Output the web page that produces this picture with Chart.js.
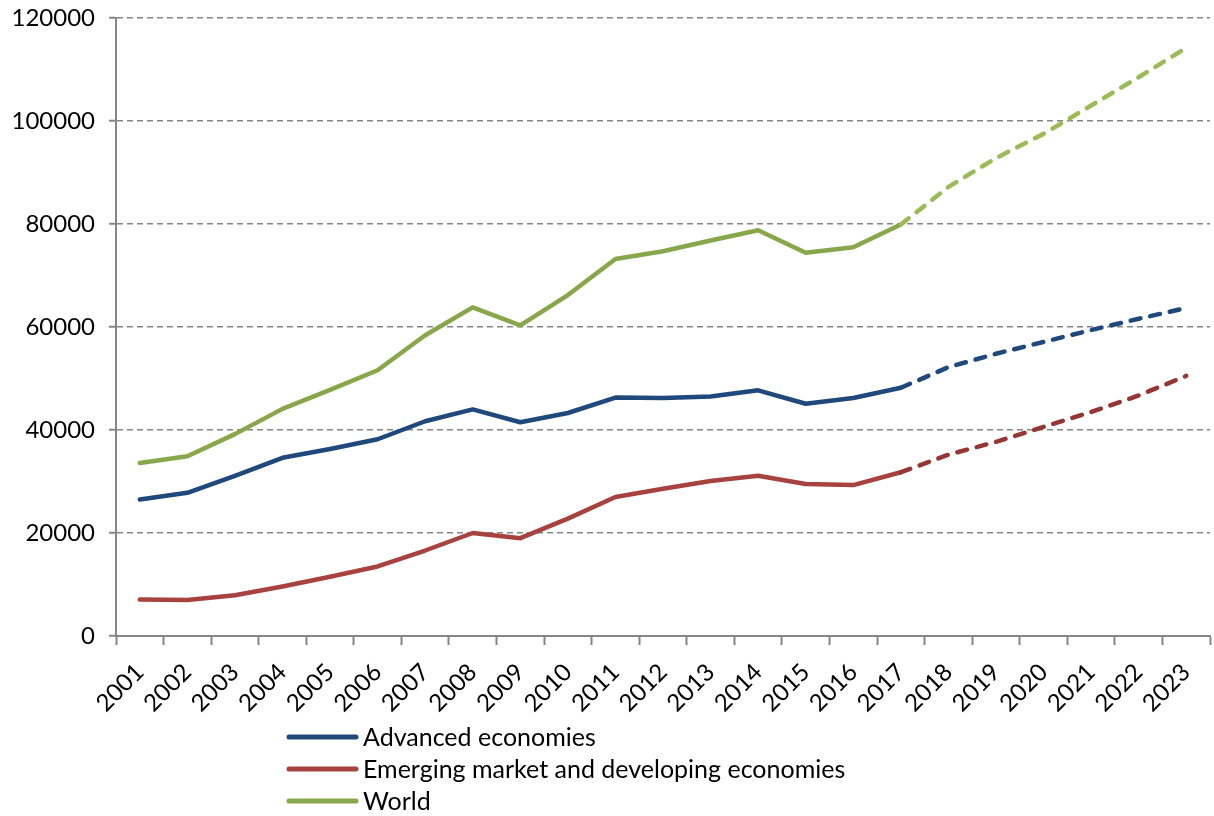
<!DOCTYPE html>
<html>
<head>
<meta charset="utf-8">
<script src="https://cdn.jsdelivr.net/npm/chart.js@4.4.0/dist/chart.umd.min.js"></script>
<style>
  html, body { margin: 0; padding: 0; background: #fff; }
  #wrap { width: 1214px; height: 816px; position: relative; }
</style>
</head>
<body>
<div id="wrap"><canvas id="mainChart"></canvas></div>
<script>
const years = ['2001', '2002', '2003', '2004', '2005', '2006', '2007', '2008', '2009', '2010', '2011', '2012',
  '2013', '2014', '2015', '2016', '2017', '2018', '2019', '2020', '2021', '2022', '2023'];

const advanced = [26500, 27800, 31100, 34600, 36300, 38200, 41700, 44000, 41500, 43300, 46300, 46200,
  46500, 47700, 45100, 46200, 48200, 52200, 54800, 57100, 59400, 61600, 63700];
const emerging = [7100, 7000, 7900, 9600, 11500, 13500, 16600, 20000, 19000, 22800, 27000, 28600,
  30100, 31100, 29500, 29300, 31800, 35200, 37700, 40600, 43500, 46700, 50500];
const world = [33600, 34900, 39200, 44100, 47800, 51600, 58400, 63800, 60300, 66200, 73200, 74700,
  76800, 78800, 74400, 75500, 79900, 87200, 92800, 97500, 103000, 108500, 114200];

const yMax = 120000;
const yStep = 20000;
const lastActual = years.indexOf('2017'); // dashed from here on (projections)

const FONT = 'Lato';
const gridGray = '#868686';

// dashed (and for World slightly lighter) after the last actual year
function projection(dashColor) {
  return {
    borderDash: c => c.p0DataIndex >= lastActual ? [10, 10] : undefined,
    borderColor: c => c.p0DataIndex >= lastActual ? dashColor : undefined
  };
}

function series(label, data, color, dashColor) {
  return {
    label: label,
    data: data,
    borderColor: color,
    backgroundColor: color,
    borderWidth: 4.5,
    borderCapStyle: 'round',
    borderJoinStyle: 'round',
    pointRadius: 0,
    tension: 0,
    fill: false,
    segment: projection(dashColor)
  };
}

// legend stacked under the axis labels
const legendRows = {
  id: 'legendRows',
  afterDraw(chart) {
    const c = chart.ctx;
    c.save();
    c.font = '25px ' + FONT;
    c.textBaseline = 'middle';
    c.textAlign = 'left';
    chart.data.datasets.forEach((ds, i) => {
      const y = 737 + i * 32;
      c.strokeStyle = ds.borderColor;
      c.lineWidth = 5;
      c.lineCap = 'round';
      c.beginPath();
      c.moveTo(289, y);
      c.lineTo(356, y);
      c.stroke();
      c.fillStyle = '#000';
      c.fillText(ds.label, 363, y + 1);
    });
    c.restore();
  }
};

const ctx = document.getElementById('mainChart').getContext('2d');

new Chart(ctx, {
  type: 'line',
  data: {
    labels: years,
    datasets: [
      series('Advanced economies', advanced, '#1F497D', '#1F497D'),
      series('Emerging market and developing economies', emerging, '#A8423F', '#963634'),
      series('World', world, '#88A74A', '#9BBB59')
    ]
  },
  options: {
    responsive: true,
    maintainAspectRatio: false,
    animation: false,
    layout: { padding: { top: 18, right: 4, left: 0, bottom: 0 } },
    plugins: {
      legend: { display: false },
      tooltip: { enabled: false }
    },
    scales: {
      x: {
        offset: true,
        grid: {
          display: true,
          drawOnChartArea: false,
          offset: true,
          tickLength: 9,
          tickColor: gridGray,
          tickWidth: 2
        },
        border: { color: gridGray, width: 2 },
        ticks: {
          autoSkip: false,
          maxRotation: 45,
          minRotation: 45,
          padding: 13,
          color: '#000',
          font: { family: FONT, size: 24 }
        },
        afterFit: s => {
          s.height = 180;
          s.paddingLeft = 0;
          s.paddingRight = 0;
        }
      },
      y: {
        min: 0,
        max: yMax,
        ticks: {
          stepSize: yStep,
          padding: 14,
          color: '#000',
          font: { family: FONT, size: 24 },
          callback: v => String(v)
        },
        grid: {
          color: gridGray,
          lineWidth: 1.5,
          tickLength: 7,
          tickColor: gridGray,
          tickWidth: 2,
          tickBorderDash: []
        },
        border: { display: true, color: gridGray, width: 2, dash: [6, 4] },
        afterFit: s => {
          s.width = 116;
          s.paddingTop = 0;
          s.paddingBottom = 0;
        }
      }
    }
  },
  plugins: [legendRows]
});
</script>
</body>
</html>
